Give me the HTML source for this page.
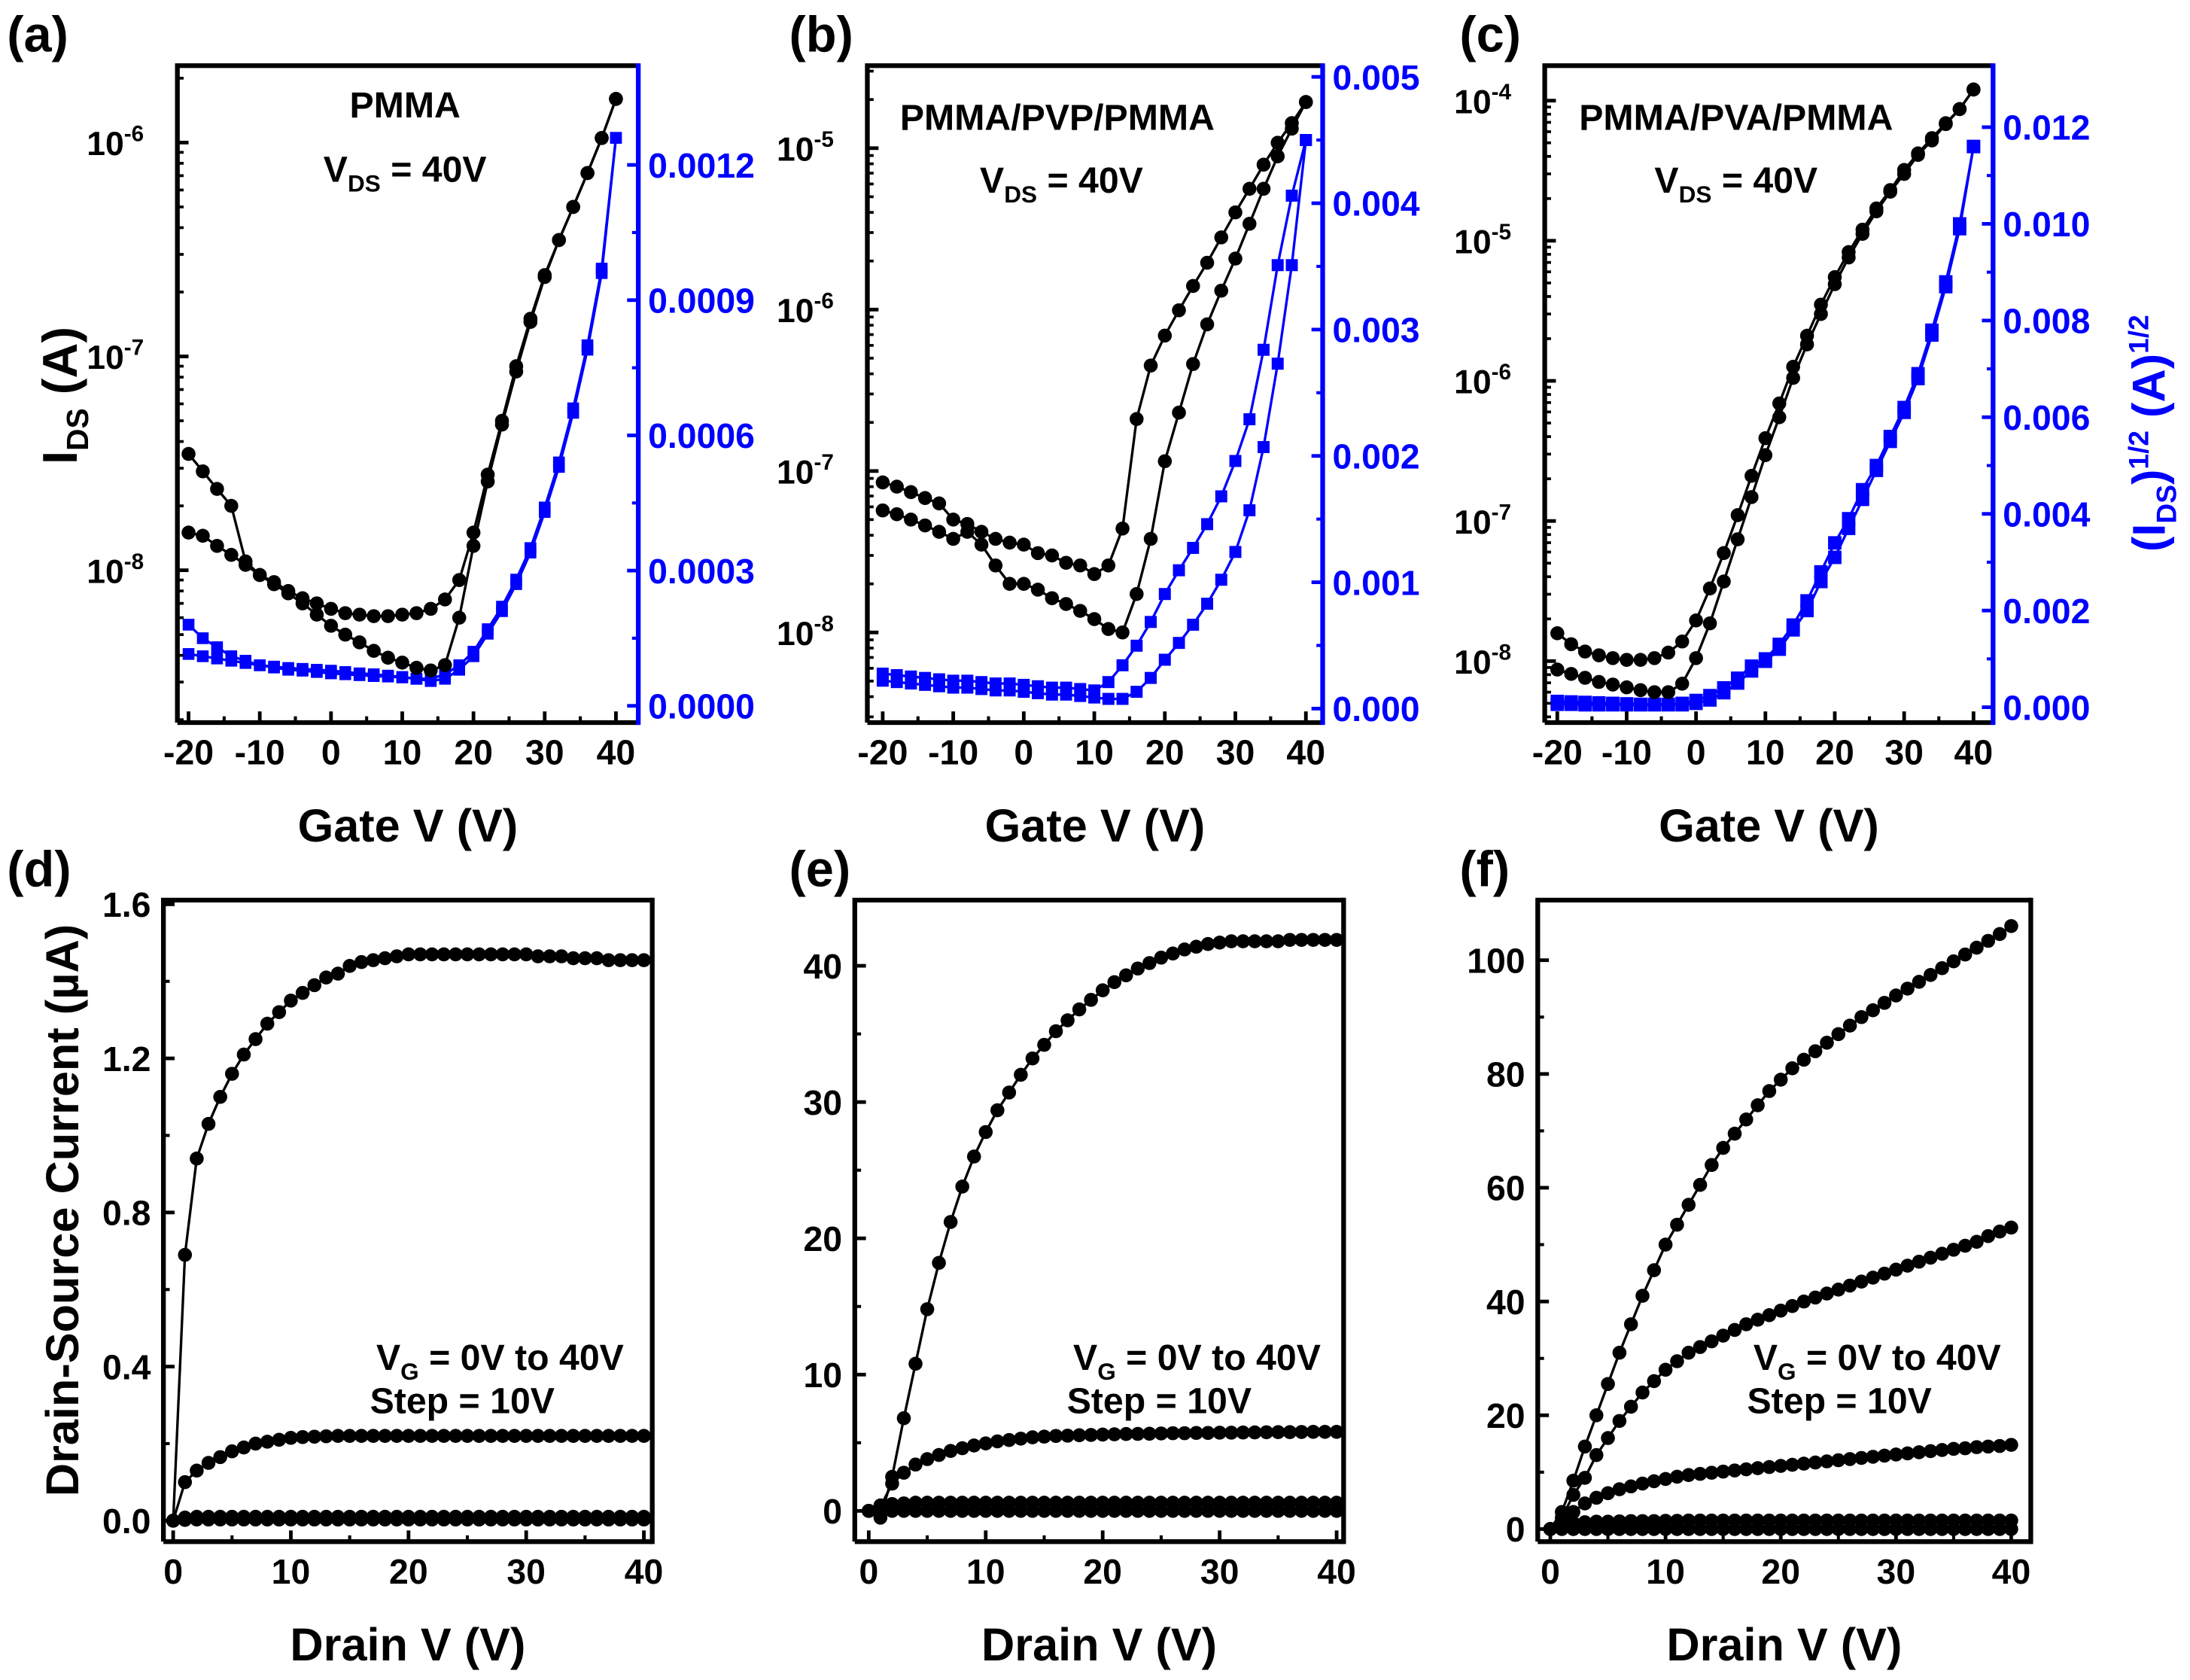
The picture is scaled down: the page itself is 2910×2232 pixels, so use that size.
<!DOCTYPE html>
<html><head><meta charset="utf-8"><title>OFET transfer and output characteristics</title>
<style>
html,body{margin:0;padding:0;background:#fff;}
svg{display:block;}
text{font-family:"Liberation Sans",Arial,sans-serif;font-weight:bold;}
</style></head>
<body>
<svg id="fig" xmlns="http://www.w3.org/2000/svg" width="2910" height="2232" viewBox="0 0 1568 1202" preserveAspectRatio="none">
<rect x="0" y="0" width="1568" height="1202" fill="#fff"/>
</svg>
<script>
// ===== DATA =====
const gateV = [-20,-18,-16,-14,-12,-10,-8,-6,-4,-2,0,2,4,6,8,10,12,14,16,18,20,22,24,26,28,30,32,34,36,38,40];
const drainV = [0,1,2,3,4,5,6,7,8,9,10,11,12,13,14,15,16,17,18,19,20,21,22,23,24,25,26,27,28,29,30,31,32,33,34,35,36,37,38,39,40];

// Panel (a) PMMA
const aIdsFwd = [3.5e-8,2.9e-8,2.4e-8,2.0e-8,1.1e-8,9.5e-9,8.8e-9,8.0e-9,7.4e-9,7.0e-9,6.6e-9,6.3e-9,6.2e-9,6.1e-9,6.1e-9,6.2e-9,6.3e-9,6.6e-9,7.3e-9,9.0e-9,1.5e-8,2.8e-8,5.0e-8,9.0e-8,1.5e-7,2.4e-7,3.5e-7,5.0e-7,7.2e-7,1.05e-6,1.6e-6];
const aIdsRev = [1.5e-8,1.45e-8,1.3e-8,1.18e-8,1.06e-8,9.5e-9,8.6e-9,7.8e-9,7.0e-9,6.2e-9,5.5e-9,5.0e-9,4.6e-9,4.2e-9,3.9e-9,3.7e-9,3.5e-9,3.4e-9,3.6e-9,6.0e-9,1.3e-8,2.6e-8,4.8e-8,8.5e-8,1.45e-7,2.35e-7,3.5e-7,5.0e-7,7.2e-7,1.05e-6,1.6e-6];
const aSqrtFwd = [0.00018,0.00015,0.00013,0.00011,0.0001,0.00009,0.000085,0.00008,0.000078,0.000075,0.000072,0.00007,0.000068,0.000066,0.000065,0.000063,0.00006,0.00006,0.00007,0.00009,0.00012,0.00017,0.00022,0.00028,0.00035,0.00044,0.00054,0.00066,0.0008,0.00097,0.00126];
const aSqrtRev = [0.000115,0.00011,0.000105,0.0001,0.000095,0.00009,0.000087,0.000084,0.000082,0.00008,0.000078,0.000075,0.000072,0.00007,0.000067,0.000064,0.00006,0.000055,0.00006,0.00008,0.00011,0.00016,0.00021,0.00027,0.00034,0.00043,0.00053,0.00065,0.00079,0.00096,0.00126];

// Panel (b) PMMA/PVP/PMMA
const bIdsFwd = [8.5e-8,8.0e-8,7.4e-8,6.8e-8,6.3e-8,5.0e-8,4.7e-8,4.2e-8,3.8e-8,3.6e-8,3.5e-8,3.1e-8,3.0e-8,2.7e-8,2.6e-8,2.3e-8,2.6e-8,4.4e-8,2.1e-7,4.5e-7,6.9e-7,9.9e-7,1.4e-6,1.95e-6,2.8e-6,4.0e-6,5.6e-6,7.9e-6,1.08e-5,1.43e-5,1.93e-5];
const bIdsRev = [5.7e-8,5.4e-8,5.0e-8,4.6e-8,4.2e-8,3.8e-8,4.2e-8,3.5e-8,2.6e-8,2.0e-8,2.0e-8,1.84e-8,1.63e-8,1.5e-8,1.36e-8,1.21e-8,1.05e-8,1.0e-8,1.73e-8,3.8e-8,1.15e-7,2.3e-7,4.6e-7,8.1e-7,1.31e-6,2.07e-6,3.4e-6,5.6e-6,8.9e-6,1.32e-5,1.93e-5];
const bSqrtFwd = [0.000277,0.000265,0.000254,0.000243,0.000232,0.000221,0.000221,0.00021,0.000199,0.000199,0.000188,0.000177,0.000166,0.000166,0.000155,0.000144,0.00021,0.000343,0.000498,0.000686,0.000907,0.001095,0.001272,0.00146,0.00168,0.00196,0.00229,0.00284,0.00351,0.00406,0.0045];
const bSqrtRev = [0.000221,0.00021,0.000199,0.000188,0.000177,0.000166,0.000166,0.000155,0.000144,0.000144,0.000133,0.000122,0.000111,0.000111,0.0001,0.000088,0.000077,0.000077,0.000133,0.000243,0.000387,0.00052,0.000664,0.00083,0.00102,0.00124,0.00157,0.00207,0.00273,0.00351,0.0045];

// Panel (c) PMMA/PVA/PMMA
const cIdsFwd = [1.58e-8,1.32e-8,1.17e-8,1.1e-8,1.05e-8,1.02e-8,1.02e-8,1.05e-8,1.15e-8,1.38e-8,1.95e-8,3.3e-8,5.9e-8,1.1e-7,2.1e-7,3.9e-7,6.9e-7,1.26e-6,2.1e-6,3.5e-6,5.5e-6,8.3e-6,1.2e-5,1.7e-5,2.3e-5,3.2e-5,4.2e-5,5.4e-5,6.9e-5,8.7e-5,1.2e-4];
const cIdsRev = [8.7e-9,8.1e-9,7.6e-9,7.1e-9,6.8e-9,6.5e-9,6.2e-9,6.0e-9,6.0e-9,6.9e-9,1.05e-8,1.86e-8,3.7e-8,7.4e-8,1.48e-7,2.95e-7,5.5e-7,1.05e-6,1.82e-6,3.0e-6,4.9e-6,7.6e-6,1.12e-5,1.62e-5,2.24e-5,3.0e-5,4.1e-5,5.2e-5,6.8e-5,8.7e-5,1.2e-4];
const cSqrtFwd = [0.00012,0.00011,0.0001,0.00009,0.00008,0.00007,0.00006,0.00006,0.00006,0.00008,0.00014,0.00024,0.0004,0.0006,0.00085,0.001,0.0013,0.0017,0.0022,0.0028,0.0034,0.0039,0.0045,0.005,0.0056,0.0062,0.0069,0.0078,0.0088,0.01,0.0116];
const cSqrtRev = [0.00006,0.00006,0.00005,0.00005,0.00005,0.00005,0.00005,0.00005,0.00005,0.00005,0.00008,0.00015,0.0003,0.0005,0.00075,0.00095,0.0012,0.0016,0.002,0.0026,0.0031,0.0037,0.0043,0.0049,0.0055,0.0061,0.0068,0.0077,0.0087,0.0099,0.0116];

// Panel (d) output PMMA (µA)
const dVg40 = [0,0.69,0.94,1.03,1.10,1.16,1.21,1.25,1.29,1.32,1.35,1.37,1.39,1.41,1.42,1.44,1.45,1.455,1.46,1.465,1.47,1.47,1.47,1.47,1.47,1.47,1.47,1.47,1.47,1.47,1.47,1.465,1.465,1.465,1.46,1.46,1.46,1.455,1.455,1.455,1.455];
const dVg30 = [0,0.10,0.13,0.15,0.165,0.18,0.19,0.20,0.205,0.21,0.215,0.217,0.218,0.219,0.22,0.22,0.22,0.22,0.22,0.22,0.22,0.22,0.22,0.22,0.22,0.22,0.22,0.22,0.22,0.22,0.22,0.22,0.22,0.22,0.22,0.22,0.22,0.22,0.22,0.22,0.22];
const dVg20 = [0,0.008,0.01,0.01,0.01,0.01,0.01,0.01,0.01,0.01,0.01,0.01,0.01,0.01,0.01,0.01,0.01,0.01,0.01,0.01,0.01,0.01,0.01,0.01,0.01,0.01,0.01,0.01,0.01,0.01,0.01,0.01,0.01,0.01,0.01,0.01,0.01,0.01,0.01,0.01,0.01];
const dVg10 = [0,0.002,0.003,0.003,0.003,0.003,0.003,0.003,0.003,0.003,0.003,0.003,0.003,0.003,0.003,0.003,0.003,0.003,0.003,0.003,0.003,0.003,0.003,0.003,0.003,0.003,0.003,0.003,0.003,0.003,0.003,0.003,0.003,0.003,0.003,0.003,0.003,0.003,0.003,0.003,0.003];

// Panel (e) output PMMA/PVP/PMMA (µA)
const eVg40 = [0,-0.5,2.5,6.8,10.8,14.8,18.2,21.2,23.8,26,27.8,29.4,30.7,32,33.2,34.2,35.2,36,36.8,37.5,38.2,38.8,39.3,39.8,40.2,40.6,40.9,41.2,41.4,41.6,41.7,41.8,41.8,41.8,41.8,41.8,41.9,41.9,41.9,41.9,41.9];
const eVg30 = [0,0.3,2,2.8,3.4,3.8,4.1,4.4,4.6,4.8,4.95,5.1,5.2,5.3,5.4,5.45,5.5,5.52,5.55,5.57,5.6,5.62,5.64,5.65,5.66,5.68,5.7,5.7,5.72,5.72,5.74,5.74,5.75,5.76,5.77,5.78,5.78,5.79,5.8,5.8,5.8];
const eVg20 = [0,0.4,0.5,0.55,0.6,0.6,0.6,0.6,0.6,0.6,0.6,0.6,0.6,0.6,0.6,0.6,0.6,0.6,0.6,0.6,0.6,0.6,0.6,0.6,0.6,0.6,0.6,0.6,0.6,0.6,0.6,0.6,0.6,0.6,0.6,0.6,0.6,0.6,0.6,0.6,0.6];
const eVg10 = [0,-0.2,0,0,0,0,0,0,0,0,0,0,0,0,0,0,0,0,0,0,0,0,0,0,0,0,0,0,0,0,0,0,0,0,0,0,0,0,0,0,0];

// Panel (f) output PMMA/PVA/PMMA (µA)
const fVg40 = [0,3,8.5,14.5,20,25.5,31,36,41,45.5,50,53.5,57,60.5,64,67,69.5,72,74.5,77,79,81,82.5,84,85.5,87,88.5,90,91.2,92.5,93.8,95,96.2,97.4,98.6,99.8,101,102.2,103.4,104.6,106];
const fVg30 = [0,2,6,9,13,16,19,21.5,24,26,28,29.5,31,32,33,34,35,36,36.8,37.6,38.4,39.2,40,40.7,41.4,42.1,42.8,43.5,44.2,44.9,45.6,46.3,47,47.7,48.4,49.1,49.8,50.5,51.5,52.3,53];
const fVg20 = [0,1.5,3,4.5,5.5,6.3,7,7.5,8,8.4,8.8,9.2,9.5,9.7,9.9,10.1,10.3,10.5,10.7,10.9,11.1,11.3,11.5,11.7,11.9,12.1,12.3,12.5,12.7,12.9,13.1,13.3,13.5,13.7,13.9,14.1,14.2,14.4,14.5,14.6,14.8];
const fVg10 = [0,0.8,1.1,1.2,1.3,1.3,1.35,1.4,1.4,1.4,1.45,1.45,1.5,1.5,1.5,1.5,1.5,1.5,1.5,1.5,1.5,1.5,1.5,1.5,1.5,1.5,1.5,1.5,1.5,1.5,1.5,1.5,1.5,1.5,1.5,1.5,1.5,1.5,1.5,1.5,1.5];
const fVg0 = [0,0,0,0,0,0,0,0,0,0,0,0,0,0,0,0,0,0,0,0,0,0,0,0,0,0,0,0,0,0,0,0,0,0,0,0,0,0,0,0,0];

const gateTicks = [-20,-10,0,10,20,30,40];
const drainTicks = [0,10,20,30,40];
const aRightTicks = ['0.0000','0.0003','0.0006','0.0009','0.0012'];
const bRightTicks = ['0.000','0.001','0.002','0.003','0.004','0.005'];
const cRightTicks = ['0.000','0.002','0.004','0.006','0.008','0.010','0.012'];
const dTicks = ['0.0','0.4','0.8','1.2','1.6'];
const eTicks = ['0','10','20','30','40'];
const fTicks = ['0','20','40','60','80','100'];

// ===== DRAWING =====
const NS = 'http://www.w3.org/2000/svg';
const svg = document.getElementById('fig');
function el(tag, attrs, parent, txt){
  const e = document.createElementNS(NS, tag);
  for (const k in attrs) e.setAttribute(k, attrs[k]);
  if (txt !== undefined) e.textContent = txt;
  (parent || svg).appendChild(e);
  return e;
}
function linScale(v0, p0, v1, p1){ return v => p0 + (v - v0) * (p1 - p0) / (v1 - v0); }
function logScale(e0, p0, e1, p1){ return v => p0 + (Math.log10(v) - e0) * (p1 - p0) / (e1 - e0); }

function plotSeries(g, xs, ys, sx, sy, color, marker, ms, name, clipId){
  const sg = el('g', {'clip-path':'url(#'+clipId+')'}, g);
  
  
  let d = '';
  xs.forEach((x, i) => { d += (i ? 'L' : 'M') + sx(x).toFixed(2) + ' ' + sy(ys[i]).toFixed(2); });
  const ln = el('path', {d: d, fill:'none', stroke: color, 'stroke-width': 1.8}, sg);
  
  
  xs.forEach((x, i) => {
    let m;
    if (marker === 'circle') m = el('circle', {cx: sx(x), cy: sy(ys[i]), r: ms, fill: color}, sg);
    else m = el('rect', {x: sx(x) - ms, y: sy(ys[i]) - ms, width: 2*ms, height: 2*ms, fill: color}, sg);
    
    
  });
}

let clipN = 0;
function makeFrame(p){
  const g = el('g', {});
  
  
  const id = 'clip' + (clipN++);
  const cp = el('clipPath', {id: id}, g);
  el('rect', {x: p.x0, y: p.y0, width: p.x1 - p.x0, height: p.y1 - p.y0}, cp);
  p.clip = id; p.g = g;
  return g;
}
function drawBorder(p, rightColor){
  const g = p.g;
  const b = el('path', {d:`M${p.x0} ${p.y1}L${p.x0} ${p.y0}L${p.x1} ${p.y0}`, fill:'none', stroke:'#000', 'stroke-width':3.4}, g);
  
  
  const bb = el('line', {x1:p.x0, y1:p.y1, x2:p.x1, y2:p.y1, stroke:'#000', 'stroke-width':3.4}, g);
  
  
  const r = el('line', {x1:p.x1, y1:p.y0-1.7, x2:p.x1, y2:p.y1+1.7, stroke:rightColor, 'stroke-width':3.4}, g);
  
  
}
function xAxis(p, sx, ticks, title){
  const g = p.g;
  ticks.forEach((t, i) => {
    el('line', {x1:sx(t), y1:p.y1, x2:sx(t), y2:p.y1-8, stroke:'#000', 'stroke-width':2.6}, g);
    if (i < ticks.length - 1) { const m = (t + ticks[i+1]) / 2; el('line', {x1:sx(m), y1:p.y1, x2:sx(m), y2:p.y1-4.5, stroke:'#000', 'stroke-width':2.2}, g); }
    const tx = el('text', {x: sx(t), y: p.y1 + 30, 'font-size': 25, 'text-anchor':'middle', fill:'#000'}, g, String(t));
    
    
  });
  const tt = el('text', {x: (p.x0 + p.x1) / 2, y: p.y1 + 85, 'font-size': 33, 'text-anchor':'middle', fill:'#000'}, g, title);
  
  
}
function logYAxis(p, sy, eMin, eMax){
  const g = p.g;
  for (let e = eMin; e <= eMax; e++){
    for (let k = 1; k <= 9; k++){
      const v = k * Math.pow(10, e);
      const y = sy(v);
      if (y < p.y0 || y > p.y1) continue;
      el('line', {x1:p.x0, y1:y, x2:p.x0 + (k === 1 ? 8 : 4.5), y2:y, stroke:'#000', 'stroke-width': k === 1 ? 2.6 : 2}, g);
      if (k === 1){
        const t = el('text', {x: p.x0 - 24, y: y + 9, 'font-size': 24, 'text-anchor':'end', fill:'#000'}, g);
        
        
        el('tspan', {}, t, '10');
        el('tspan', {dy: -10, 'font-size': 16}, t, String(e));
      }
    }
  }
}
function linYAxis(p, sy, labels, side, color){
  const g = p.g;
  const vals = labels.map(Number);
  const x = side === 'left' ? p.x0 : p.x1;
  const dir = side === 'left' ? 1 : -1;
  vals.forEach((v, i) => {
    const y = sy(v);
    el('line', {x1:x, y1:y, x2:x + dir*8, y2:y, stroke:color, 'stroke-width':2.6}, g);
    if (i < vals.length - 1){ const ym = sy((v + vals[i+1]) / 2); el('line', {x1:x, y1:ym, x2:x + dir*4.5, y2:ym, stroke:color, 'stroke-width':2.2}, g); }
    const t = el('text', {x: side === 'left' ? x - 9 : x + 7, y: y + 9, 'font-size': 25, 'text-anchor': side === 'left' ? 'end' : 'start', fill: color}, g, labels[i]);
    
    
  });
}
function label(txt, x, y){
  const t = el('text', {x:x, y:y, 'font-size':36, fill:'#000'}, svg, txt);
  
  
}
function annot(g, x, y, main, sub, rest, size){
  const t = el('text', {x:x, y:y, 'font-size':size || 26, 'text-anchor':'middle', fill:'#000'}, g);
  
  
  el('tspan', {}, t, main);
  if (sub){ el('tspan', {dy: 7, 'font-size': 17}, t, sub); el('tspan', {dy: -7}, t, rest); }
  return t;
}

// ---------- Panel (a)
const pa = {name:'panel-a-pmma-transfer', x0:127, y0:47, x1:457, y1:517};
makeFrame(pa);
const axA = linScale(-20, 135, 40, 441);
const ayA = logScale(-6, 102, -8, 408);
const ayA2 = linScale(0, 505, 0.0012, 118);
plotSeries(pa.g, gateV, aSqrtFwd, axA, ayA2, '#0000ff', 'square', 4.2, 'a-sqrt-ids-forward', pa.clip);
plotSeries(pa.g, gateV, aSqrtRev, axA, ayA2, '#0000ff', 'square', 4.2, 'a-sqrt-ids-reverse', pa.clip);
plotSeries(pa.g, gateV, aIdsFwd, axA, ayA, '#000', 'circle', 5, 'a-ids-forward', pa.clip);
plotSeries(pa.g, gateV, aIdsRev, axA, ayA, '#000', 'circle', 5, 'a-ids-reverse', pa.clip);
drawBorder(pa, '#0000ff');
xAxis(pa, axA, gateTicks, 'Gate V (V)');
logYAxis(pa, ayA, -9, -6);
linYAxis(pa, ayA2, aRightTicks, 'right', '#0000ff');
annot(pa.g, 290, 84, 'PMMA', null, null);
annot(pa.g, 290, 130, 'V', 'DS', ' = 40V');
label('(a)', 5, 37);
(function(){
  const t = el('text', {transform:'translate(55 283) rotate(-90)', 'font-size':35, 'text-anchor':'middle', fill:'#000'});
  
  
  el('tspan', {}, t, 'I');
  el('tspan', {dy: 8, 'font-size': 22}, t, 'DS');
  el('tspan', {dy: -8}, t, ' (A)');
})();

// ---------- Panel (b)
const pb = {name:'panel-b-pvp-transfer', x0:621, y0:47, x1:947, y1:517};
makeFrame(pb);
const axB = linScale(-20, 632, 40, 935);
const ayB = logScale(-5, 106, -8, 452.5);
const ayB2 = linScale(0, 507, 0.005, 55);
plotSeries(pb.g, gateV, bSqrtFwd, axB, ayB2, '#0000ff', 'square', 4.3, 'b-sqrt-ids-forward', pb.clip);
plotSeries(pb.g, gateV, bSqrtRev, axB, ayB2, '#0000ff', 'square', 4.3, 'b-sqrt-ids-reverse', pb.clip);
plotSeries(pb.g, gateV, bIdsFwd, axB, ayB, '#000', 'circle', 5, 'b-ids-forward', pb.clip);
plotSeries(pb.g, gateV, bIdsRev, axB, ayB, '#000', 'circle', 5, 'b-ids-reverse', pb.clip);
drawBorder(pb, '#0000ff');
xAxis(pb, axB, gateTicks, 'Gate V (V)');
logYAxis(pb, ayB, -9, -5);
linYAxis(pb, ayB2, bRightTicks, 'right', '#0000ff');
annot(pb.g, 757, 93, 'PMMA/PVP/PMMA', null, null);
annot(pb.g, 760, 138, 'V', 'DS', ' = 40V');
label('(b)', 565, 37);

// ---------- Panel (c)
const pc = {name:'panel-c-pva-transfer', x0:1106, y0:47, x1:1427, y1:517};
makeFrame(pc);
const axC = linScale(-20, 1115, 40, 1413);
const ayC = logScale(-4, 72, -8, 473);
const ayC2 = linScale(0, 506, 0.012, 91);
plotSeries(pc.g, gateV, cSqrtFwd, axC, ayC2, '#0000ff', 'square', 4.8, 'c-sqrt-ids-forward', pc.clip);
plotSeries(pc.g, gateV, cSqrtRev, axC, ayC2, '#0000ff', 'square', 4.8, 'c-sqrt-ids-reverse', pc.clip);
plotSeries(pc.g, gateV, cIdsFwd, axC, ayC, '#000', 'circle', 5, 'c-ids-forward', pc.clip);
plotSeries(pc.g, gateV, cIdsRev, axC, ayC, '#000', 'circle', 5, 'c-ids-reverse', pc.clip);
drawBorder(pc, '#0000ff');
xAxis(pc, axC, gateTicks, 'Gate V (V)');
logYAxis(pc, ayC, -9, -4);
linYAxis(pc, ayC2, cRightTicks, 'right', '#0000ff');
annot(pc.g, 1243, 93, 'PMMA/PVA/PMMA', null, null);
annot(pc.g, 1243, 138, 'V', 'DS', ' = 40V');
label('(c)', 1045, 37);
(function(){
  const t = el('text', {transform:'translate(1550 310) rotate(-90)', 'font-size':33, 'text-anchor':'middle', fill:'#0000ff'});
  
  
  el('tspan', {}, t, '(I');
  el('tspan', {dy: 8, 'font-size': 20}, t, 'DS');
  el('tspan', {dy: -8}, t, ')');
  el('tspan', {dy: -12, 'font-size': 20}, t, '1/2');
  el('tspan', {dy: 12}, t, ' (A)');
  el('tspan', {dy: -12, 'font-size': 20}, t, '1/2');
})();

// ---------- Output panels
function outputPanel(p, series, ticks, yv0, yp0, yv1, yp1, xp0, xp1, lx, lbl, lblx){
  makeFrame(p);
  const sx = linScale(0, xp0, 40, xp1);
  const sy = linScale(yv0, yp0, yv1, yp1);
  series.forEach((s, i) => plotSeries(p.g, drainV, s, sx, sy, '#000', 'circle', 5, p.short + '-vg-curve-' + i, p.clip));
  drawBorder(p, '#000');
  xAxis(p, sx, drainTicks, 'Drain V (V)');
  linYAxis(p, sy, ticks, 'left', '#000');
  annot(p.g, lx, 980, 'V', 'G', ' = 0V to 40V');
  annot(p.g, lx - 27, 1011, 'Step = 10V', null, null);
  label(lbl, lblx, 634);
}
outputPanel({name:'panel-d-pmma-output', short:'d', x0:117, y0:644, x1:467, y1:1103}, [dVg10, dVg20, dVg30, dVg40], dTicks, 0, 1088, 1.6, 647, 124, 461, 358, '(d)', 5);
outputPanel({name:'panel-e-pvp-output', short:'e', x0:612, y0:644, x1:962, y1:1103}, [eVg10, eVg20, eVg30, eVg40], eTicks, 0, 1081, 40, 691, 622, 957, 857, '(e)', 565);
outputPanel({name:'panel-f-pva-output', short:'f', x0:1101, y0:644, x1:1454, y1:1103}, [fVg0, fVg10, fVg20, fVg30, fVg40], fTicks, 0, 1094, 100, 687, 1110, 1440, 1344, '(f)', 1045);
(function(){
  const t = el('text', {transform:'translate(56 866) rotate(-90)', 'font-size':33, 'text-anchor':'middle', fill:'#000'}, svg, 'Drain-Source Current (\u00b5A)');
  
  
})();
</script>
</body></html>
